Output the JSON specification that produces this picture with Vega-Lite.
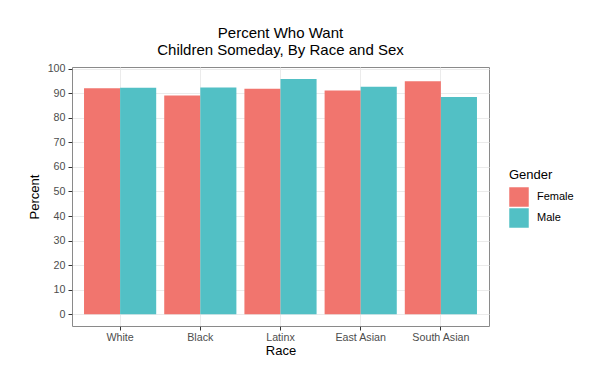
{
  "$schema": "https://vega.github.io/schema/vega-lite/v6.json",
  "width": 417,
  "height": 259,
  "autosize": "none",
  "padding": {"left": 72, "top": 67, "right": 102, "bottom": 41},
  "background": "white",
  "config": {
    "font": "Liberation Sans",
    "view": {"stroke": "#8a8a8a", "strokeWidth": 1},
    "axis": {"gridColor": "#EBEBEB", "gridWidth": 1, "tickColor": "#333333", "tickSize": 4, "labelColor": "#4D4D4D", "labelFontSize": 10.7, "titleFontSize": 13, "titleFontWeight": "normal", "titleColor": "#000000", "domain": false}
  },
  "title": {
    "text": ["Percent Who Want", "Children Someday, By Race and Sex"],
    "fontSize": 15,
    "fontWeight": "normal",
    "color": "#000000",
    "anchor": "middle",
    "frame": "group",
    "lineHeight": 17,
    "offset": 5
  },
  "data": {
    "values": [
      {"Race": "White", "Gender": "Female", "Percent": 92.0},
      {"Race": "White", "Gender": "Male", "Percent": 92.2},
      {"Race": "Black", "Gender": "Female", "Percent": 89.1},
      {"Race": "Black", "Gender": "Male", "Percent": 92.4},
      {"Race": "Latinx", "Gender": "Female", "Percent": 91.8},
      {"Race": "Latinx", "Gender": "Male", "Percent": 95.8},
      {"Race": "East Asian", "Gender": "Female", "Percent": 91.1},
      {"Race": "East Asian", "Gender": "Male", "Percent": 92.7},
      {"Race": "South Asian", "Gender": "Female", "Percent": 94.9},
      {"Race": "South Asian", "Gender": "Male", "Percent": 88.5}
    ]
  },
  "mark": {"type": "bar"},
  "encoding": {
    "x": {
      "field": "Race",
      "type": "nominal",
      "sort": ["White", "Black", "Latinx", "East Asian", "South Asian"],
      "scale": {"paddingInner": 0.1, "paddingOuter": 0.15},
      "axis": {"labelAngle": 0, "bandPosition": 0.5, "grid": true, "titlePadding": 3, "labelPadding": 2}
    },
    "xOffset": {"field": "Gender", "type": "nominal", "sort": ["Female", "Male"], "scale": {"paddingInner": 0, "paddingOuter": 0}},
    "y": {
      "field": "Percent",
      "type": "quantitative",
      "stack": null,
      "scale": {"domain": [-4.8, 100.7], "nice": false, "zero": false},
      "axis": {"values": [0, 10, 20, 30, 40, 50, 60, 70, 80, 90, 100], "titlePadding": 6, "labelPadding": 3}
    },
    "color": {
      "field": "Gender",
      "type": "nominal",
      "scale": {"domain": ["Female", "Male"], "range": ["#F1756E", "#52C0C5"]},
      "legend": {
        "orient": "none",
        "legendX": 437,
        "legendY": 102,
        "symbolType": "square",
        "symbolSize": 380,
        "symbolStrokeWidth": 0,
        "symbolOpacity": 1,
        "labelFontSize": 11,
        "labelColor": "#000000",
        "titleFontSize": 13,
        "titleFontWeight": "normal",
        "titleColor": "#000000",
        "rowPadding": 1,
        "titlePadding": 5,
        "labelOffset": 8
      }
    }
  }
}
